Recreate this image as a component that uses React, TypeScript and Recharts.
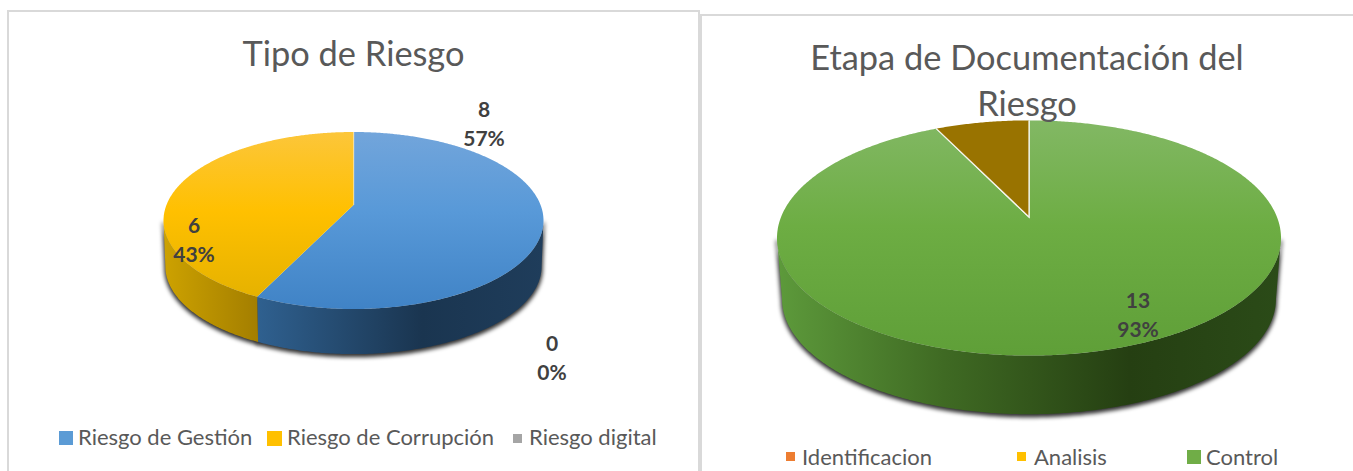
import React from "react";
import { PieChart, Pie, Legend } from "recharts";

// ---- data ----
const tipoNames = ["Riesgo de Gestión", "Riesgo de Corrupción", "Riesgo digital"];
const tipoValues = [8, 6, 0];
const etapaNames = ["Identificacion", "Analisis", "Control", ""];
const etapaValues = [0, 0, 13, 1];

// ---- style ----
const FONT = "Lato, 'Open Sans', sans-serif";
const tipoColors = ["#5B9BD5", "#FFC000", "#A5A5A5"];
const tipoFace = [
  ["#72A5DB", "#5899D8", "#4083C6"],
  ["#FCC63A", "#FFC000", "#E2B000"],
  ["#A5A5A5", "#A5A5A5", "#A5A5A5"],
];
const tipoWall: [number, string][][] = [
  [[0.25, "#2F608F"], [0.68, "#1A3550"], [1, "#1F3D5B"]],
  [[0, "#CDA200"], [0.25, "#A37E00"]],
  [[0, "#666666"], [1, "#666666"]],
];
const etapaColors = ["#ED7D31", "#FFC000", "#70AD47", "#997300"];
const etapaFace = [
  ["#ED7D31", "#ED7D31", "#ED7D31"],
  ["#FFC000", "#FFC000", "#FFC000"],
  ["#82B864", "#6DAD43", "#5F9F38"],
  ["#997300", "#997300", "#936E00"],
];
const etapaWall: [number, string][][] = [
  [[0, "#933F00"], [1, "#933F00"]],
  [[0, "#9A7300"], [1, "#9A7300"]],
  [[0, "#5D9A3B"], [0.33, "#3F6A23"], [0.7, "#253F12"], [1, "#2B4B18"]],
  [[0, "#5B4500"], [1, "#5B4500"]],
];

type Geo = { ry: number; lift: number; wall: number; shrink: number; seamEnd: boolean };
const tipoGeo: Geo = { ry: 88.5, lift: 15.5, wall: 46, shrink: 0.99, seamEnd: false };
const etapaGeo: Geo = { ry: 117.6, lift: 21, wall: 61, shrink: 0.98, seamEnd: true };

// projects a point on the pie's rim (theta clockwise from 12 o'clock) to the tilted view;
// dx, dy are relative to the centre of the visible ellipse
function rim(p: any, g: Geo, theta: number) {
  const k = -g.lift / g.ry;
  const X = Math.sin((theta * Math.PI) / 180);
  const Y = -Math.cos((theta * Math.PI) / 180);
  const den = 1 + k * Y;
  const c = p.outerRadius * Math.sqrt(1 - k * k);
  return { dx: (c * X) / den, dy: (g.ry * Y - g.lift) / den };
}
function sweep(a: number, b: number) {
  const out: number[] = [];
  for (let t = a; t < b; t += 0.5) out.push(t);
  out.push(b);
  return out;
}
function thetas(p: any) {
  return [90 - p.startAngle, 90 - p.endAngle];
}
function frontRange(p: any, g: Geo) {
  const [a, b] = thetas(p);
  const lim = (Math.acos(-g.lift / g.ry) * 180) / Math.PI;
  const lo = Math.max(a, lim);
  const hi = Math.min(b, 360 - lim);
  return hi > lo ? [lo, hi] : null;
}
function wallPath(p: any, g: Geo) {
  const r = frontRange(p, g);
  if (!r) return null;
  const ts = sweep(r[0], r[1]);
  const mid = p.cy + g.lift;
  const top = ts.map((t) => {
    const q = rim(p, g, t);
    return `${p.cx + q.dx} ${mid + q.dy}`;
  });
  const bot = ts
    .slice()
    .reverse()
    .map((t) => {
      const q = rim(p, g, t);
      return `${p.cx + q.dx * g.shrink} ${mid + q.dy * g.shrink + g.wall}`;
    });
  return `M${top.join("L")}L${bot.join("L")}Z`;
}

const shadowShape = (g: Geo) => (p: any) => {
  const d = wallPath(p, g);
  if (!d) return <g />;
  return <path d={d} fill="#000" stroke="#000" strokeWidth={2} strokeOpacity={0.8} fillOpacity={0.8} transform="translate(0 2)" style={{ filter: "blur(2.2px)" }} />;
};
const wallShape = (g: Geo, stops: [number, string][][], id: string) => (p: any) => {
  const d = wallPath(p, g);
  if (!d) return <g />;
  const gid = `${id}-w${p.index}`;
  return (
    <g>
      <defs>
        <linearGradient id={gid} gradientUnits="userSpaceOnUse" x1={p.cx - p.outerRadius} x2={p.cx + p.outerRadius} y1={0} y2={0}>
          {stops[p.index].map(([o, c]) => (
            <stop key={o} offset={o} stopColor={c} />
          ))}
        </linearGradient>
      </defs>
      <path d={d} fill={`url(#${gid})`} />
    </g>
  );
};
const faceShape = (g: Geo, stops: string[][], id: string) => (p: any) => {
  const [a, b] = thetas(p);
  if (b - a <= 0) return <g />;
  const mid = p.cy + g.lift;
  const pts = sweep(a, b).map((t) => {
    const q = rim(p, g, t);
    return `${p.cx + q.dx} ${mid + q.dy}`;
  });
  const gid = `${id}-f${p.index}`;
  const top = mid - g.ry;
  const seam = g.seamEnd
    ? `M${pts[0]}L${p.cx} ${p.cy}L${pts[pts.length - 1]}`
    : p.index === 0
    ? `M${pts[0]}L${p.cx} ${p.cy}`
    : "";
  return (
    <g>
      <defs>
        <linearGradient id={gid} gradientUnits="userSpaceOnUse" x1={0} x2={0} y1={top} y2={top + 2 * g.ry}>
          <stop offset={0} stopColor={stops[p.index][0]} />
          <stop offset={0.45} stopColor={stops[p.index][1]} />
          <stop offset={1} stopColor={stops[p.index][2]} />
        </linearGradient>
      </defs>
      <path d={`M${p.cx} ${p.cy}L${pts.join("L")}Z`} fill={`url(#${gid})`} />
      {seam && <path d={seam} fill="none" stroke="#fff" strokeOpacity={0.85} strokeWidth={1.3} />}
    </g>
  );
};

const labelSpots: Record<string, [number, number][]> = {
  tipo: [[477, 110], [187, 226], [545, 344]],
  etapa: [[0, 0], [0, 0], [438, 301], [0, 0]],
};
const labelFor = (key: string, hidden: number[]) => (p: any) => {
  if (hidden.includes(p.index)) return <g />;
  const [x, y] = labelSpots[key][p.index];
  return (
    <text x={x} textAnchor="middle" fill="#404040" fontFamily={FONT} fontWeight={700} fontSize={21}>
      <tspan x={x} y={y + 7}>{p.value}</tspan>
      <tspan x={x} y={y + 36}>{Math.round(p.percent * 100)}%</tspan>
    </text>
  );
};

type Mark = { x: number; y: number; s: number; tx: number };
const tipoMarks: Mark[] = [
  { x: 59, y: 431, s: 14, tx: 78 },
  { x: 267, y: 431, s: 15, tx: 287 },
  { x: 513, y: 434, s: 9, tx: 529 },
];
const etapaMarks: Mark[] = [
  { x: 86, y: 452, s: 9, tx: 102 },
  { x: 317, y: 452, s: 9, tx: 334 },
  { x: 487, y: 450, s: 14, tx: 506 },
];
const legendBody = (marks: Mark[], base: number, names: string[], colors: string[]) => () => (
  <div style={{ position: "relative", width: "100%", height: 471 }}>
    {marks.map((m, i) => (
      <React.Fragment key={names[i]}>
        <div style={{ position: "absolute", left: m.x, top: m.y, width: m.s, height: m.s, background: colors[i] }} />
        <div style={{ position: "absolute", left: m.tx, top: base, fontFamily: FONT, fontSize: 22, lineHeight: "30px", color: "#595959", whiteSpace: "nowrap" }}>{names[i]}</div>
      </React.Fragment>
    ))}
  </div>
);

function Panel(props: any) {
  const { left, top, width, names, values, colors, face, wall, geo, cx, cy, r, id, hidden, marks, base, titles } = props;
  const rows = names.map((name: string, i: number) => ({ name, value: values[i], fill: colors[i] }));
  const common = { data: rows, dataKey: "value", nameKey: "name", cx, cy, outerRadius: r, startAngle: 90, endAngle: -270, paddingAngle: 0, stroke: "none", isAnimationActive: false, labelLine: false };
  return (
    <div style={{ position: "absolute", left, top: 0, width, height: 471, overflow: "hidden" }}>
      <div style={{ position: "absolute", left: 0, top, width: id === "tipo" ? width : width + 20, height: 500, border: "2px solid #D9D9D9", boxSizing: "border-box" }} />
      <PieChart width={width} height={471} style={{ position: "absolute", left: 0, top: 0 }} margin={{ top: 0, right: 0, bottom: 0, left: 0 }}>
        <Pie {...common} legendType="none" shape={shadowShape(geo)} />
        <Pie {...common} legendType="none" shape={wallShape(geo, wall, id)} />
        <Pie {...common} shape={faceShape(geo, face, id)} label={labelFor(id, hidden)} />
        <Legend content={legendBody(marks, base, names, colors)} wrapperStyle={{ left: 0, top: 0, width: "100%", height: 471 }} />
      </PieChart>
      {titles.map((t: any) => (
        <div key={t.text} style={{ position: "absolute", left: t.x, top: t.y, transform: "translateX(-50%)", fontFamily: FONT, fontSize: t.size, lineHeight: "46px", color: "#595959", whiteSpace: "nowrap" }}>{t.text}</div>
      ))}
    </div>
  );
}

export default function App() {
  return (
    <div style={{ position: "absolute", left: 0, top: 0, width: 1353, height: 471, background: "#fff", overflow: "hidden" }}>
      <Panel left={7} top={10} width={693} names={tipoNames} values={tipoValues} colors={tipoColors} face={tipoFace} wall={tipoWall} geo={tipoGeo} cx={346.5} cy={205} r={190} id="tipo" hidden={[]} marks={tipoMarks.map((m) => ({ ...m, x: m.x - 7, tx: m.tx - 7 }))} base={422}
        titles={[{ text: "Tipo de Riesgo", x: 346.5, y: 30, size: 34.4 }]} />
      <Panel left={700} top={14} width={653} names={etapaNames} values={etapaValues} colors={etapaColors} face={etapaFace} wall={etapaWall} geo={etapaGeo} cx={329} cy={217} r={252} id="etapa" hidden={[0, 1, 3]} marks={etapaMarks} base={442}
        titles={[{ text: "Etapa de Documentación del", x: 327, y: 34, size: 34.4 }, { text: "Riesgo", x: 327, y: 80, size: 34.4 }]} />
    </div>
  );
}
